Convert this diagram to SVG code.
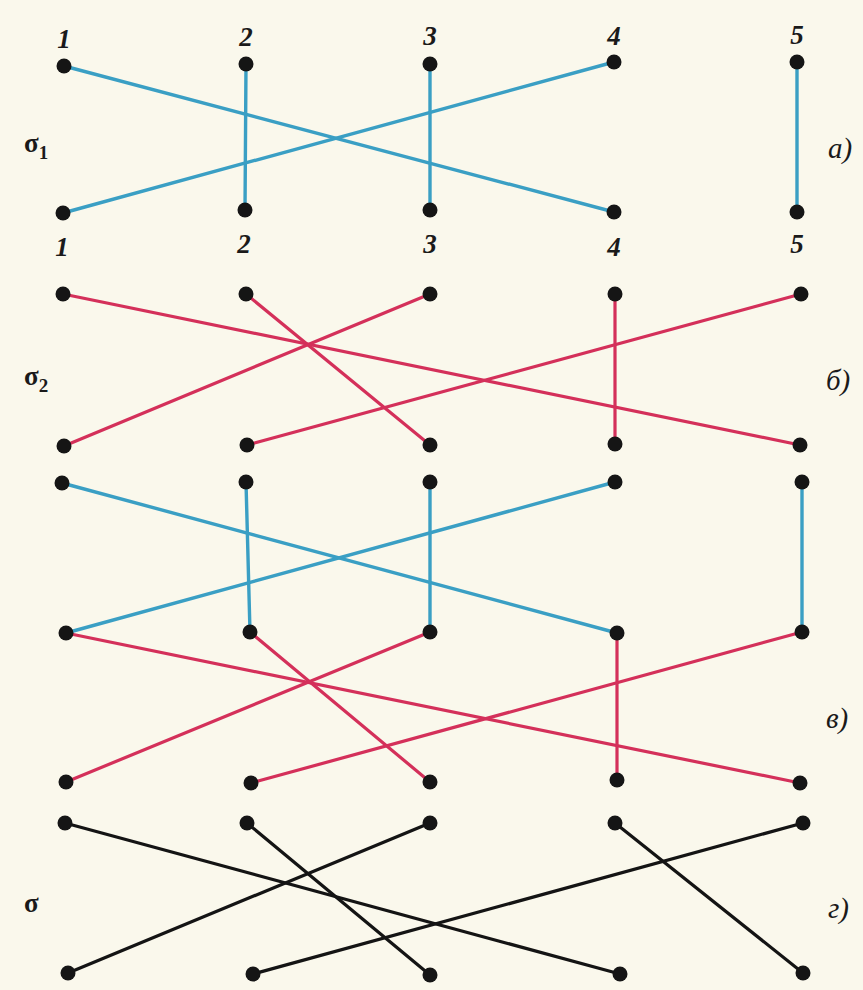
<svg xmlns="http://www.w3.org/2000/svg" width="863" height="990" viewBox="0 0 863 990">
<style>
.bg{fill:#faf8ec}
.dot{fill:#151515}
.b{stroke:#3a9fc4;stroke-width:3.4;fill:none;stroke-linecap:round}
.r{stroke:#d4305a;stroke-width:3.2;fill:none;stroke-linecap:round}
.k{stroke:#141414;stroke-width:3.2;fill:none;stroke-linecap:round}
.num{font-family:"Liberation Serif",serif;font-style:italic;font-weight:bold;font-size:27px;fill:#1a1a1a;text-anchor:middle}
.lab{font-family:"Liberation Serif",serif;font-style:italic;font-size:29px;fill:#1a1a1a}
.sig{font-family:"Liberation Serif",serif;font-weight:bold;font-size:27px;fill:#1a1a1a}
</style>
<rect class="bg" x="0" y="0" width="863" height="990"/>
<g id="connectors">
<line class="b" x1="64" y1="66" x2="614" y2="212"/>
<line class="b" x1="246" y1="64" x2="245" y2="210"/>
<line class="b" x1="430" y1="64" x2="430" y2="210"/>
<line class="b" x1="614" y1="62" x2="63" y2="213"/>
<line class="b" x1="797" y1="62" x2="797" y2="212"/>
<line class="r" x1="63" y1="294" x2="800" y2="445"/>
<line class="r" x1="246" y1="294" x2="430" y2="445"/>
<line class="r" x1="430" y1="294" x2="64" y2="446"/>
<line class="r" x1="615" y1="294" x2="615" y2="444"/>
<line class="r" x1="801" y1="294" x2="247" y2="445"/>
<line class="b" x1="62" y1="483" x2="617" y2="633"/>
<line class="b" x1="246" y1="482" x2="250" y2="632"/>
<line class="b" x1="430" y1="482" x2="430" y2="632"/>
<line class="b" x1="615" y1="482" x2="66" y2="633"/>
<line class="b" x1="802" y1="482" x2="802" y2="632"/>
<line class="r" x1="66" y1="633" x2="800" y2="783"/>
<line class="r" x1="250" y1="632" x2="430" y2="782"/>
<line class="r" x1="430" y1="632" x2="66" y2="782"/>
<line class="r" x1="617" y1="633" x2="617" y2="780"/>
<line class="r" x1="802" y1="632" x2="251" y2="783"/>
<line class="k" x1="65" y1="823" x2="620" y2="974"/>
<line class="k" x1="247" y1="823" x2="430" y2="975"/>
<line class="k" x1="430" y1="823" x2="68" y2="973"/>
<line class="k" x1="615" y1="823" x2="803" y2="973"/>
<line class="k" x1="803" y1="823" x2="253" y2="974"/>
</g>
<g id="r1">
<g id="n1-1"><circle class="dot" cx="64" cy="66" r="7.5"/></g>
<g id="n1-2"><circle class="dot" cx="246" cy="64" r="7.5"/></g>
<g id="n1-3"><circle class="dot" cx="430" cy="64" r="7.5"/></g>
<g id="n1-4"><circle class="dot" cx="614" cy="62" r="7.5"/></g>
<g id="n1-5"><circle class="dot" cx="797" cy="62" r="7.5"/></g>
</g>
<g id="r2">
<g id="n2-1"><circle class="dot" cx="63" cy="213" r="7.5"/></g>
<g id="n2-2"><circle class="dot" cx="245" cy="210" r="7.5"/></g>
<g id="n2-3"><circle class="dot" cx="430" cy="210" r="7.5"/></g>
<g id="n2-4"><circle class="dot" cx="614" cy="212" r="7.5"/></g>
<g id="n2-5"><circle class="dot" cx="797" cy="212" r="7.5"/></g>
</g>
<g id="r3">
<g id="n3-1"><circle class="dot" cx="63" cy="294" r="7.5"/></g>
<g id="n3-2"><circle class="dot" cx="246" cy="294" r="7.5"/></g>
<g id="n3-3"><circle class="dot" cx="430" cy="294" r="7.5"/></g>
<g id="n3-4"><circle class="dot" cx="615" cy="294" r="7.5"/></g>
<g id="n3-5"><circle class="dot" cx="801" cy="294" r="7.5"/></g>
</g>
<g id="r4">
<g id="n4-1"><circle class="dot" cx="64" cy="446" r="7.5"/></g>
<g id="n4-2"><circle class="dot" cx="247" cy="445" r="7.5"/></g>
<g id="n4-3"><circle class="dot" cx="430" cy="445" r="7.5"/></g>
<g id="n4-4"><circle class="dot" cx="615" cy="444" r="7.5"/></g>
<g id="n4-5"><circle class="dot" cx="800" cy="445" r="7.5"/></g>
</g>
<g id="r5">
<g id="n5-1"><circle class="dot" cx="62" cy="483" r="7.5"/></g>
<g id="n5-2"><circle class="dot" cx="246" cy="482" r="7.5"/></g>
<g id="n5-3"><circle class="dot" cx="430" cy="482" r="7.5"/></g>
<g id="n5-4"><circle class="dot" cx="615" cy="482" r="7.5"/></g>
<g id="n5-5"><circle class="dot" cx="802" cy="482" r="7.5"/></g>
</g>
<g id="r6">
<g id="n6-1"><circle class="dot" cx="66" cy="633" r="7.5"/></g>
<g id="n6-2"><circle class="dot" cx="250" cy="632" r="7.5"/></g>
<g id="n6-3"><circle class="dot" cx="430" cy="632" r="7.5"/></g>
<g id="n6-4"><circle class="dot" cx="617" cy="633" r="7.5"/></g>
<g id="n6-5"><circle class="dot" cx="802" cy="632" r="7.5"/></g>
</g>
<g id="r7">
<g id="n7-1"><circle class="dot" cx="66" cy="782" r="7.5"/></g>
<g id="n7-2"><circle class="dot" cx="251" cy="783" r="7.5"/></g>
<g id="n7-3"><circle class="dot" cx="430" cy="782" r="7.5"/></g>
<g id="n7-4"><circle class="dot" cx="617" cy="780" r="7.5"/></g>
<g id="n7-5"><circle class="dot" cx="800" cy="783" r="7.5"/></g>
</g>
<g id="r8">
<g id="n8-1"><circle class="dot" cx="65" cy="823" r="7.5"/></g>
<g id="n8-2"><circle class="dot" cx="247" cy="823" r="7.5"/></g>
<g id="n8-3"><circle class="dot" cx="430" cy="823" r="7.5"/></g>
<g id="n8-4"><circle class="dot" cx="615" cy="823" r="7.5"/></g>
<g id="n8-5"><circle class="dot" cx="803" cy="823" r="7.5"/></g>
</g>
<g id="r9">
<g id="n9-1"><circle class="dot" cx="68" cy="973" r="7.5"/></g>
<g id="n9-2"><circle class="dot" cx="253" cy="974" r="7.5"/></g>
<g id="n9-3"><circle class="dot" cx="430" cy="975" r="7.5"/></g>
<g id="n9-4"><circle class="dot" cx="620" cy="974" r="7.5"/></g>
<g id="n9-5"><circle class="dot" cx="803" cy="973" r="7.5"/></g>
</g>
<g id="labels">
<text class="num" x="64" y="48">1</text>
<text class="num" x="246" y="46">2</text>
<text class="num" x="430" y="45">3</text>
<text class="num" x="614" y="45">4</text>
<text class="num" x="797" y="44">5</text>
<text class="num" x="62" y="256">1</text>
<text class="num" x="244" y="253">2</text>
<text class="num" x="430" y="253">3</text>
<text class="num" x="614" y="256">4</text>
<text class="num" x="797" y="253">5</text>
<text class="sig" x="24" y="152">σ<tspan font-size="19" dy="7">1</tspan></text>
<text class="sig" x="24" y="385">σ<tspan font-size="19" dy="7">2</tspan></text>
<text class="sig" x="24" y="912">σ</text>
<text class="lab" x="828" y="158">а)</text>
<text class="lab" x="826" y="390">б)</text>
<text class="lab" x="826" y="728">в)</text>
<text class="lab" x="828" y="918">г)</text>
</g>
</svg>
